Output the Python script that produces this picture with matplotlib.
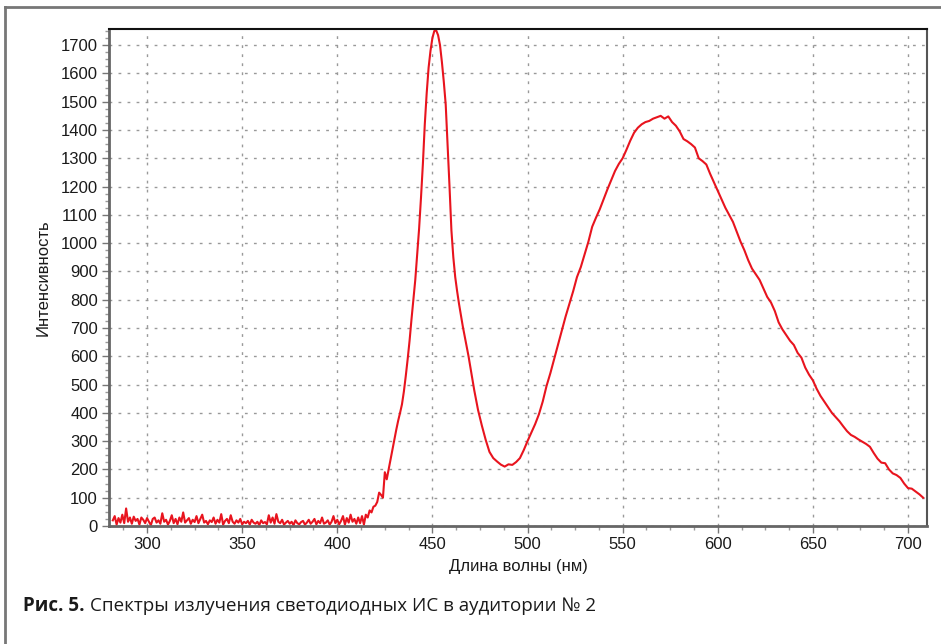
import numpy as np
import matplotlib
matplotlib.use('Agg')
import matplotlib.pyplot as plt
from matplotlib.lines import Line2D
from matplotlib.ticker import MultipleLocator

# spectrum: 1 nm steps to 470 nm, then 2 nm steps
WL_FINE = np.arange(282, 471)
WL_COARSE = np.arange(472, 709, 2)

BASELINE = [
    20, 35, 5, 28, 12, 40, 10, 62, 15, 30,
    8, 33, 18, 25, 5, 30, 22, 10, 28, 15,
    3, 25, 30, 12, 20, 8, 45, 15, 22, 5,
    18, 38, 10, 25, 6, 30, 15, 48, 12, 20,
    28, 8, 22, 14, 35, 10, 25, 40, 12, 18,
    6, 20, 14, 30, 8, 22, 12, 42, 5, 18,
    25, 10, 38, 15, 8, 20, 12, 25, 6, 15,
    10, 18, 5, 22, 12, 8, 15, 3, 20, 10,
    14, 6, 38, 12, 30, 8, 42, 15, 10, 22,
    5, 12, 18, 8, 15, 3, 20, 10, 6, 14,
    18, 5, 12, 22, 8, 15, 25, 6, 18, 10,
    30, 8, 12, 20, 5, 15, 35, 10, 22, 6,
    18, 35, 5, 28, 12, 40, 15, 25, 8, 30,
    10, 35, 5, 40, 30, 55, 48, 68, 72,
]
BLUE_PEAK = [
    85, 118, 110, 100, 190, 165, 200, 235, 268, 305,
    340, 372, 400, 430, 475, 530, 590, 655, 730, 800,
    870, 960, 1050, 1160, 1280, 1420, 1530, 1620, 1680, 1725,
    1750, 1752, 1735, 1700, 1640, 1570, 1490, 1345, 1200, 1045,
    950, 880, 830, 785, 745, 705, 670, 635, 600, 560,
]
PHOSPHOR = [
    480, 410, 355, 305, 262, 240, 228, 217, 210, 218,
    216, 226, 240, 268, 300, 330, 360, 395, 440, 495,
    540, 590, 640, 690, 740, 785, 830, 880, 915, 960,
    1005, 1058, 1090, 1120, 1155, 1190, 1222, 1255, 1280, 1300,
    1330, 1362, 1390, 1408, 1420, 1428, 1432, 1440, 1445, 1450,
    1440, 1448, 1428, 1415, 1395, 1368, 1360, 1350, 1338, 1300,
    1290, 1278, 1245, 1215, 1185, 1155, 1125, 1100, 1075, 1040,
    1005, 975, 940, 910, 890, 870, 840, 810, 790, 760,
    720, 695, 675, 655, 640, 612, 595, 560, 535, 515,
    485, 460, 440, 420, 400, 385, 370, 352, 335, 322,
    315, 306, 298, 290, 280, 258, 238, 224, 222, 200,
    186, 180, 170, 150, 134, 132, 122, 112, 100,
]

X_TICKS = [300, 350, 400, 450, 500, 550, 600, 650, 700]
Y_TICKS = list(range(0, 1701, 100))

wl = np.concatenate([WL_FINE, WL_COARSE])
intensity = np.array(BASELINE + BLUE_PEAK + PHOSPHOR)
assert len(wl) == len(intensity)

plt.rcParams['font.family'] = ['Liberation Sans', 'DejaVu Sans']

fig = plt.figure(figsize=(9.41, 6.44), dpi=100)
ax = fig.add_axes([109 / 941, 1 - 526 / 644, 818 / 941, 497 / 644])

ax.plot(wl, intensity, color='#e8141e', lw=1.5)

ax.set_xlim(280, 710)
ax.set_ylim(0, 1757)
ax.set_xticks(X_TICKS)
ax.set_yticks(Y_TICKS)
ax.xaxis.set_minor_locator(MultipleLocator(12.5))
ax.yaxis.set_minor_locator(MultipleLocator(25))

ax.grid(True, which='major', color='#999999', lw=1, linestyle=(0, (2, 4.5)))
ax.set_axisbelow(True)

ax.tick_params(which='major', direction='out', length=5, width=1, color='#777777',
               labelsize=12, pad=3, labelcolor='#1a1a1a')
ax.tick_params(which='minor', direction='out', length=3, width=1, color='#999999')

for side, col, w in [('left', '#666666', 2), ('bottom', '#666666', 2),
                     ('top', '#111111', 1.5), ('right', '#555555', 1.5)]:
    ax.spines[side].set_color(col)
    ax.spines[side].set_linewidth(w)

ax.set_xlabel('Длина волны (нм)', fontsize=12, labelpad=5, color='#1a1a1a')
ax.set_ylabel('Интенсивность', fontsize=12, labelpad=7, color='#1a1a1a')

# outer frame, only left and top edges are visible
fig.add_artist(Line2D([5 / 941, 5 / 941], [0, 1 - 7 / 644], transform=fig.transFigure,
                      color='#777777', lw=2))
fig.add_artist(Line2D([5 / 941, 1], [1 - 7 / 644, 1 - 7 / 644], transform=fig.transFigure,
                      color='#777777', lw=2))

cap_y = 1 - 611 / 644
t = fig.text(23 / 941, cap_y, 'Рис. 5.', fontsize=13.5, fontweight='bold',
             family=['Open Sans', 'DejaVu Sans'], color='#1a1a1a', va='baseline')
fig.canvas.draw()
bb = t.get_window_extent()
fig.text((bb.x1 + 5) / 941, cap_y, 'Спектры излучения светодиодных ИС в аудитории № 2',
         fontsize=13.5, family=['Open Sans', 'DejaVu Sans'], color='#1a1a1a', va='baseline')

fig.savefig('out.png', dpi=100)
